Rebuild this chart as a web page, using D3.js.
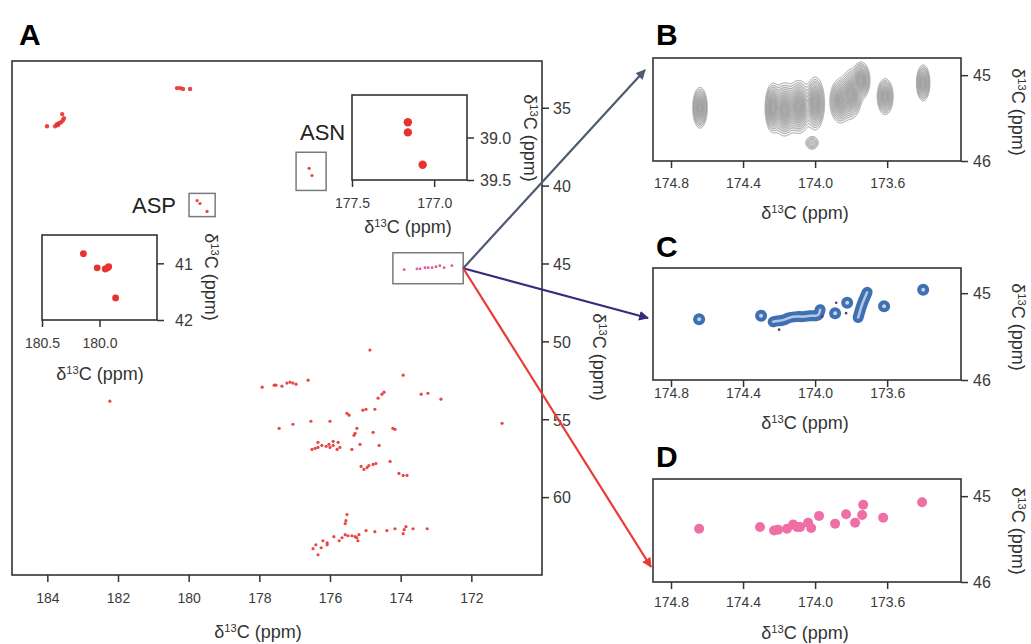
<!DOCTYPE html>
<html>
<head>
<meta charset="utf-8">
<title>13C-13C spectra</title>
<script src="https://d3js.org/d3.v7.min.js"></script>
<style>
  body { margin: 0; background: #fff; }
  svg { font-family: "Liberation Sans", Arial, sans-serif; }
  .tick line { stroke: #333; stroke-width: 1.5; }
  .tick text { fill: #3a3a3a; }
  .xax .tick text { font-size: 14px; }
  .yax .tick text { font-size: 16px; }
  .frame { fill: none; stroke: #333; stroke-width: 1.6; }
  .region { fill: none; stroke: #7a7a7a; stroke-width: 1.5; }
  .ttl { font-size: 18px; fill: #333; }
  .letter { font-size: 30px; font-weight: bold; fill: #000; }
  .aa { font-size: 22px; fill: #222; }
</style>
</head>
<body>
<svg width="1031" height="644"></svg>
<script>
// ---- data (ppm) ----
var mainPeaks = [
  [184.01,36.19],[183.78,36.19],[183.73,36.06],[183.67,35.99],[183.61,35.93],[183.56,35.80],[183.58,35.41],[183.53,35.67],[183.70,36.12],
  [180.33,33.74],[180.24,33.74],[180.16,33.80],[179.96,33.80],
  [179.76,40.96],[179.68,41.15],[179.48,41.66],
  [176.59,38.89],[176.51,39.35],
  [182.23,53.84],
  [174.87,50.56],
  [177.92,52.94],[177.58,52.81],[177.53,52.81],[177.36,52.88],[177.22,52.68],[177.13,52.62],[177.05,52.68],[176.96,52.75],[176.62,52.49],
  [173.93,52.17],
  [174.64,53.65],[174.53,53.39],[174.47,53.26],
  [173.42,53.39],[173.23,53.33],[172.86,53.71],
  [175.52,54.62],[175.46,54.74],
  [175.07,54.42],[174.98,54.36],[174.73,54.36],
  [171.13,55.26],
  [177.44,55.58],[177.05,55.32],[176.54,55.13],[176.00,55.13],
  [175.24,55.58],[175.29,55.90],[175.32,56.03],
  [174.78,55.84],
  [174.22,55.58],[174.16,55.65],
  [176.51,56.94],[176.42,56.87],[176.34,56.81],[176.23,56.68],[176.34,56.48],[176.11,56.74],[176.00,56.81],[175.91,56.68],[175.80,56.94],[175.77,56.48],[175.91,56.42],[176.03,56.61],[175.72,56.81],
  [175.38,56.94],[175.15,56.61],[174.61,56.68],
  [175.12,58.03],[175.04,58.22],[174.95,58.10],[174.90,57.97],[174.78,57.90],[174.70,57.84],
  [174.30,57.71],
  [174.05,58.48],[173.93,58.61],[173.82,58.61],
  [175.52,61.12],[175.55,61.51],[175.57,61.70],
  [176.48,63.31],[176.40,63.06],[176.20,62.80],[176.08,62.93],[176.08,63.06],[175.89,62.54],[175.74,62.80],[175.66,62.61],[175.57,62.41],[175.49,62.48],[175.38,62.48],[175.29,62.54],[175.24,62.61],[175.18,62.41],[175.21,62.80],
  [174.98,62.15],[174.73,62.22],[174.39,62.15],[174.16,62.03],[173.93,62.35],[173.90,62.09],[173.85,61.90],[173.65,62.03],[173.25,62.03],
  [176.34,63.70],[176.25,63.25]
];
var zoomBoxPeaks = [
  [173.90,45.40],[173.54,45.34],[173.45,45.34],[173.31,45.27],[173.22,45.27],
  [173.11,45.27],[173.00,45.21],[172.89,45.14],[172.77,45.27],[172.55,45.14]
];
var aspPeaks = [[180.14,40.83],[180.02,41.08],[179.95,41.10],[179.93,41.08],[179.92,41.06],[179.86,41.61]];
var asnPeaks = [[177.16,38.82],[177.16,38.94],[177.07,39.32]];

var aspRegion = [179.99, 179.25, 40.5, 41.99];
var asnRegion = [176.96, 176.11, 37.86, 40.31];
var zoomRegion = [174.22, 172.23, 44.31, 46.30];

var mainXTicks = [184, 182, 180, 178, 176, 174, 172];
var mainYTicks = [35, 40, 45, 50, 55, 60];
var asnXTicks = [177.5, 177.0], asnYTicks = [39.0, 39.5];
var aspXTicks = [180.5, 180.0], aspYTicks = [41, 42];
var zoomXTicks = [174.8, 174.4, 174.0, 173.6];
var zoomYTicks = [45, 46];

// B: [x, y, sx, sy, amplitude]
var contourPeaksB = [
  [174.639, 45.38, 0.017, 0.10, 1.0],
  [174.235, 45.38, 0.018, 0.12, 1.0],
  [174.17, 45.40, 0.028, 0.13, 1.0],
  [174.09, 45.37, 0.028, 0.13, 1.0],
  [174.00, 45.33, 0.022, 0.13, 1.0],
  [173.86, 45.30, 0.025, 0.11, 0.9],
  [173.80, 45.22, 0.025, 0.12, 1.0],
  [173.745, 45.06, 0.021, 0.09, 1.0],
  [173.611, 45.25, 0.019, 0.09, 0.9],
  [173.40, 45.09, 0.016, 0.09, 0.9],
  [174.017, 45.79, 0.019, 0.04, 0.3]
];
var contourLevels = [0.06, 0.1, 0.15, 0.21, 0.28, 0.36, 0.44, 0.53, 0.62, 0.71, 0.8, 0.9];

// C
var ringPeaksC = [[174.644,45.30],[174.30,45.26],[173.889,45.23],[173.822,45.11],[173.617,45.15],[173.40,44.96]];
var ringChainsC = [
  [[174.233,45.33],[174.211,45.32],[174.178,45.31],[174.139,45.28],[174.10,45.27],[174.067,45.27],[174.028,45.26],[174.0,45.26],[173.983,45.25],[173.972,45.19]],
  [[173.761,45.28],[173.739,45.13],[173.711,44.99]]
];
var dotPeaksC = [[173.883,45.11],[173.828,45.23],[173.961,45.27],[174.20,45.42]];

// D
var peaksD = [
  [174.644,45.38],[174.306,45.36],[174.228,45.40],[174.206,45.39],[174.156,45.38],[174.122,45.33],
  [174.10,45.36],[174.083,45.36],[174.039,45.31],[174.022,45.37],[173.978,45.23],[173.889,45.32],
  [173.828,45.21],[173.778,45.31],[173.739,45.22],[173.733,45.10],[173.622,45.25],[173.406,45.07]
];

// ---- drawing ----
var svg = d3.select("svg");
var red = "#e8322f", pink = "#ee6fa6", blue = "#3f70b2";

function d13(text) {
  text.append("tspan").text("δ");
  text.append("tspan").attr("baseline-shift", "super").attr("font-size", "0.62em").text("13");
  text.append("tspan").text("C (ppm)");
}

function axes(x, y, o) {
  var g = svg.append("g");
  var bottom = y.range()[1], right = x.range()[1];
  var xa = g.append("g").attr("class", "xax")
    .attr("transform", "translate(0," + bottom + ")")
    .call(d3.axisBottom(x).tickValues(o.xt).tickFormat(o.fx).tickSize(7));
  xa.attr("font-size", null).attr("font-family", null);
  xa.select(".domain").remove();
  xa.selectAll("text").attr("y", o.xlab).attr("dy", 0);
  var ya = g.append("g").attr("class", "yax")
    .attr("transform", "translate(" + right + ",0)")
    .call(d3.axisRight(y).tickValues(o.yt).tickFormat(o.fy).tickSize(7));
  ya.attr("font-size", null).attr("font-family", null);
  ya.select(".domain").remove();
  ya.selectAll("text").attr("x", o.ylab).attr("dy", "0.36em");
  g.append("rect").attr("class", "frame")
    .attr("x", x.range()[0]).attr("y", y.range()[0])
    .attr("width", right - x.range()[0]).attr("height", bottom - y.range()[0]);
  if (o.xtitle) g.append("text").attr("class", "ttl").attr("text-anchor", "middle")
    .attr("x", o.xtitle[0]).attr("y", o.xtitle[1]).call(d13);
  if (o.ytitle) g.append("text").attr("class", "ttl").attr("text-anchor", "middle")
    .attr("transform", "translate(" + o.ytitle[0] + "," + o.ytitle[1] + ") rotate(90)").call(d13);
  return g;
}

function region(x, y, r) {
  svg.append("rect").attr("class", "region")
    .attr("x", x(r[0])).attr("y", y(r[2]))
    .attr("width", x(r[1]) - x(r[0])).attr("height", y(r[3]) - y(r[2]));
}

// Panel A main spectrum
var xA = d3.scaleLinear().domain([185, 170]).range([12, 542]);
var yA = d3.scaleLinear().domain([32, 65]).range([61, 575]);
axes(xA, yA, {xt: mainXTicks, yt: mainYTicks, fx: d3.format("d"), fy: d3.format("d"),
  xlab: 28, ylab: 11, xtitle: [258, 638], ytitle: [593, 357]});

svg.append("g").selectAll("circle").data(mainPeaks).join("circle")
  .attr("cx", d => xA(d[0])).attr("cy", d => yA(d[1]))
  .attr("r", d => d[1] < 37 ? 2.2 : 1.6).attr("fill", red).attr("fill-opacity", 0.9);

region(xA, yA, aspRegion);
region(xA, yA, asnRegion);
region(xA, yA, zoomRegion);

svg.append("g").selectAll("circle").data(zoomBoxPeaks).join("circle")
  .attr("cx", d => xA(d[0])).attr("cy", d => yA(d[1]))
  .attr("r", 1.4).attr("fill", "#e8559a");

svg.append("text").attr("class", "aa").attr("x", 132).attr("y", 213).text("ASP");
svg.append("text").attr("class", "aa").attr("x", 300).attr("y", 140).text("ASN");

// ASN inset
var xN = d3.scaleLinear().domain([177.5, 176.8]).range([352, 467]);
var yN = d3.scaleLinear().domain([38.5, 39.5]).range([95, 180]);
axes(xN, yN, {xt: asnXTicks, yt: asnYTicks, fx: d3.format(".1f"), fy: d3.format(".1f"),
  xlab: 28, ylab: 13, xtitle: [408, 233], ytitle: [524, 138]});
svg.append("g").selectAll("circle").data(asnPeaks).join("circle")
  .attr("cx", d => xN(d[0])).attr("cy", d => yN(d[1])).attr("r", 4.2).attr("fill", red);

// ASP inset
var xP = d3.scaleLinear().domain([180.5, 179.5]).range([42, 157]);
var yP = d3.scaleLinear().domain([40.5, 42]).range([235, 320]);
axes(xP, yP, {xt: aspXTicks, yt: aspYTicks, fx: d3.format(".1f"), fy: d3.format("d"),
  xlab: 28, ylab: 18, xtitle: [100, 380], ytitle: [205, 277]});
svg.append("g").selectAll("circle").data(aspPeaks).join("circle")
  .attr("cx", d => xP(d[0])).attr("cy", d => yP(d[1])).attr("r", 3.4).attr("fill", red);

// zoom panels
var xZ = d3.scaleLinear().domain([174.9, 173.19]).range([653, 961]);
var yB = d3.scaleLinear().domain([44.8, 46]).range([58, 161]);
var yC = d3.scaleLinear().domain([44.71, 46]).range([268, 380]);
var yD = d3.scaleLinear().domain([44.8, 46]).range([479, 582]);

// B contours
(function () {
  var nx = 308, ny = 103, vals = new Float64Array(nx * ny);
  for (var j = 0; j < ny; j++) {
    var yv = yB.invert(58 + j + 0.5);
    for (var i = 0; i < nx; i++) {
      var xv = xZ.invert(653 + i + 0.5), s = 0;
      contourPeaksB.forEach(function (p) {
        var dx = (xv - p[0]) / p[2], dy = (yv - p[1]) / p[3];
        s += p[4] * Math.exp(-0.5 * (dx * dx + dy * dy));
      });
      vals[j * nx + i] = s;
    }
  }
  var cs = d3.contours().size([nx, ny]).thresholds(contourLevels)(vals);
  var path = d3.geoPath();
  svg.append("g").attr("transform", "translate(653,58)")
    .selectAll("path").data(cs).join("path")
    .attr("d", path)
    .attr("fill", "#8a8a8a").attr("fill-opacity", 0.09)
    .attr("stroke", (d, i) => i < 3 ? "#858585" : "#9c9c9c")
    .attr("stroke-width", 0.7);
})();
axes(xZ, yB, {xt: zoomXTicks, yt: zoomYTicks, fx: d3.format(".1f"), fy: d3.format("d"),
  xlab: 27, ylab: 12, xtitle: [805, 219], ytitle: [1012, 112]});

// C rings
var cg = svg.append("g");
var line = d3.line().x(d => xZ(d[0])).y(d => yC(d[1])).curve(d3.curveCatmullRom);
cg.selectAll("path.outer").data(ringChainsC).join("path").attr("class", "outer")
  .attr("d", line).attr("fill", "none").attr("stroke", blue)
  .attr("stroke-width", 11).attr("stroke-linecap", "round").attr("stroke-linejoin", "round");
cg.selectAll("circle.outer").data(ringPeaksC).join("circle").attr("class", "outer")
  .attr("cx", d => xZ(d[0])).attr("cy", d => yC(d[1])).attr("r", 6).attr("fill", blue);
cg.selectAll("path.inner").data(ringChainsC).join("path").attr("class", "inner")
  .attr("d", line).attr("fill", "none").attr("stroke", "#b4c8e4")
  .attr("stroke-width", 2.5).attr("stroke-linecap", "round");
cg.selectAll("circle.inner").data(ringPeaksC).join("circle").attr("class", "inner")
  .attr("cx", d => xZ(d[0])).attr("cy", d => yC(d[1])).attr("r", 2).attr("fill", "#c4d4ea");
cg.selectAll("circle.dot").data(dotPeaksC).join("circle").attr("class", "dot")
  .attr("cx", d => xZ(d[0])).attr("cy", d => yC(d[1])).attr("r", 1.3).attr("fill", "#5a3a6a");
axes(xZ, yC, {xt: zoomXTicks, yt: zoomYTicks, fx: d3.format(".1f"), fy: d3.format("d"),
  xlab: 18, ylab: 12, xtitle: [805, 429], ytitle: [1012, 327]});

// D points
svg.append("g").selectAll("circle").data(peaksD).join("circle")
  .attr("cx", d => xZ(d[0])).attr("cy", d => yD(d[1])).attr("r", 5).attr("fill", pink);
axes(xZ, yD, {xt: zoomXTicks, yt: zoomYTicks, fx: d3.format(".1f"), fy: d3.format("d"),
  xlab: 25, ylab: 12, xtitle: [805, 639], ytitle: [1012, 531]});

// connector arrows
var arrows = [
  {color: "#4d5a70", to: [645, 70]},
  {color: "#3a2a7c", to: [648, 318]},
  {color: "#ea3a36", to: [651, 567]}
];
var defs = svg.append("defs");
arrows.forEach(function (a, i) {
  defs.append("marker").attr("id", "ah" + i).attr("viewBox", "0 0 10 10")
    .attr("refX", 9).attr("refY", 5).attr("markerWidth", 4.5).attr("markerHeight", 4.5)
    .attr("orient", "auto").attr("markerUnits", "strokeWidth")
    .append("path").attr("d", "M0,0L10,5L0,10z").attr("fill", a.color);
});
var src = [xA(zoomRegion[1]), yA((zoomRegion[2] + zoomRegion[3]) / 2)];
svg.append("g").selectAll("line").data(arrows).join("line")
  .attr("x1", src[0]).attr("y1", src[1])
  .attr("x2", d => d.to[0]).attr("y2", d => d.to[1])
  .attr("stroke", d => d.color).attr("stroke-width", 2.2)
  .attr("marker-end", (d, i) => "url(#ah" + i + ")");

// panel letters
[["A", 19, 45], ["B", 656, 45], ["C", 656, 257], ["D", 656, 467]].forEach(function (l) {
  svg.append("text").attr("class", "letter").attr("x", l[1]).attr("y", l[2]).text(l[0]);
});
</script>
</body>
</html>
